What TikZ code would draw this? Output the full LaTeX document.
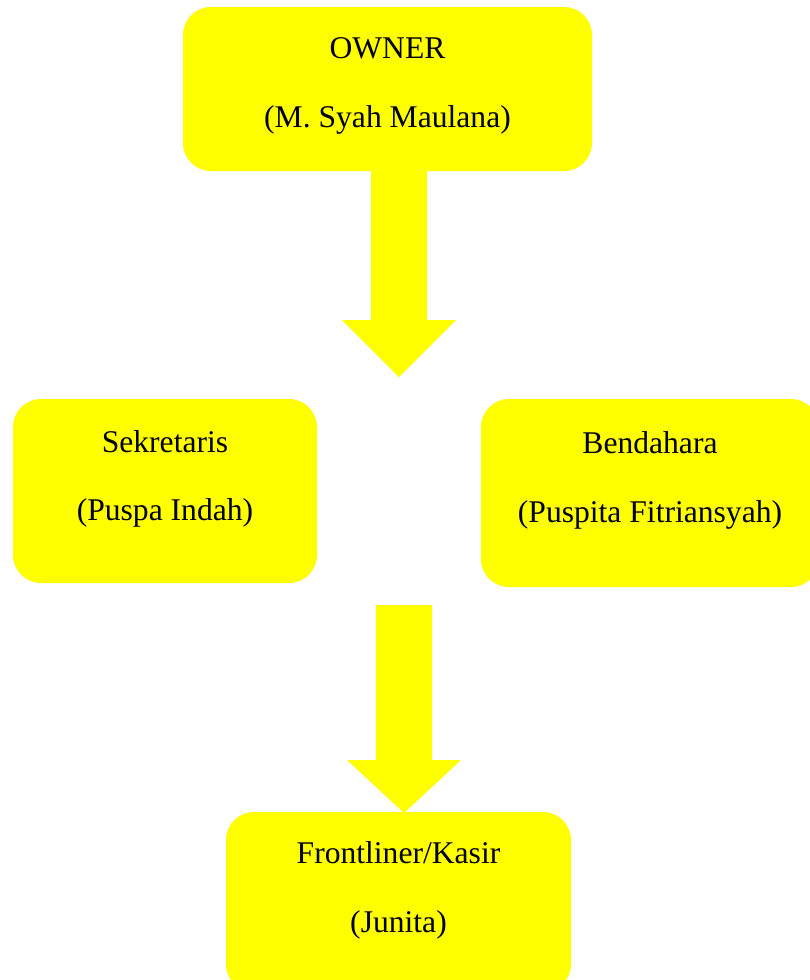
\documentclass[tikz,border=0pt]{standalone}
\usepackage{fontspec}
\setmainfont{Liberation Serif}
\definecolor{boxyellow}{HTML}{FFFF00}
\begin{document}
\begin{tikzpicture}[x=1pt,y=-1pt,
  box/.style={fill=boxyellow, draw=none, rounded corners=28pt, inner sep=0pt},
  lbl/.style={anchor=base, inner sep=0pt, font=\fontsize{31.6}{38}\selectfont, text=black},
  blockarrow/.style={fill=boxyellow, draw=none}]
\useasboundingbox (0,0) rectangle (809,980);
% boxes
\node[box, minimum width=409pt, minimum height=164pt] (owner) at (387.5,89) {};
\node[box, minimum width=304pt, minimum height=184pt] (sek) at (165,491) {};
\node[box, minimum width=338pt, minimum height=188pt] (ben) at (650,493) {};
\node[box, minimum width=345pt, minimum height=180pt] (front) at (398.5,902) {};
% texts
\node[lbl] (ownerA) at (387.5,58) {OWNER};
\node[lbl] (ownerB) at (387.5,127) {(M. Syah Maulana)};
\node[lbl] (sekA) at (165,452) {Sekretaris};
\node[lbl] (sekB) at (165,520) {(Puspa Indah)};
\node[lbl] (benA) at (650,453) {Bendahara};
\node[lbl] (benB) at (650,522) {(Puspita Fitriansyah)};
\node[lbl] (frontA) at (398.5,863) {Frontliner/Kasir};
\node[lbl] (frontB) at (398.5,932) {(Junita)};
% arrow 1
\coordinate (a1top) at (399,170);
\coordinate (a1tip) at (399,377);
\fill[blockarrow] ([xshift=-28pt]a1top) -- ([xshift=28pt]a1top) -- (427,320) -- (456,320) -- (a1tip) -- (342,320) -- (371,320) -- cycle;
% arrow 2
\coordinate (a2top) at (404,605);
\coordinate (a2tip) at (404,813);
\fill[blockarrow] ([xshift=-28pt]a2top) -- ([xshift=28pt]a2top) -- (432,760) -- (461,760) -- (a2tip) -- (347,760) -- (376,760) -- cycle;
\end{tikzpicture}
\end{document}
